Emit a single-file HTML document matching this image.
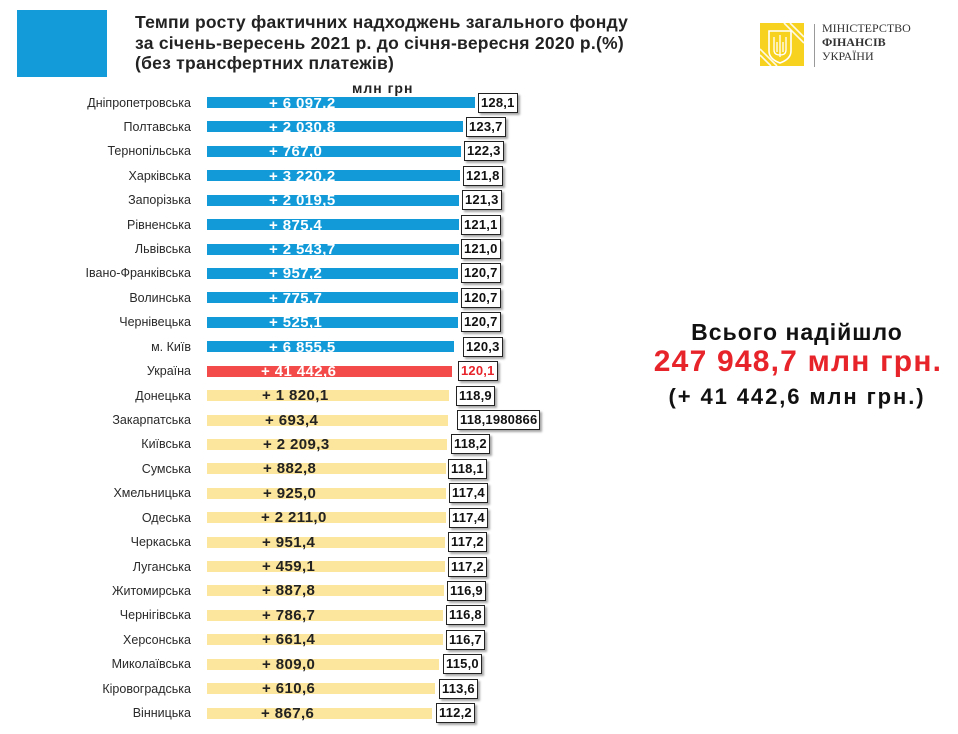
<!DOCTYPE html>
<html><head><meta charset="utf-8">
<style>
*{margin:0;padding:0;box-sizing:border-box}
html,body{width:958px;height:734px;background:#fff;overflow:hidden}
body{position:relative;font-family:"Liberation Sans","DejaVu Sans",sans-serif;color:#222}
.sq{position:absolute;left:17px;top:10px;width:90px;height:67px;background:#139bd9}
.title{position:absolute;left:135px;top:12px;font-size:17.5px;font-weight:bold;line-height:20.5px;color:#222;letter-spacing:0.25px}
.unit{position:absolute;left:352px;top:80px;font-size:14px;font-weight:bold;color:#222;letter-spacing:1px}
.lbl{position:absolute;right:767px;font-size:12.5px;color:#2a2a2a;white-space:nowrap;line-height:14px}
.bar{position:absolute;left:207px;height:11px}
.b{background:#129ad8}.r{background:#f34a4a}.y{background:#fce59c}
.bt{position:absolute;font-size:15px;font-weight:bold;letter-spacing:0.4px;white-space:nowrap;line-height:15px}
.bt.w{color:#fff}.bt.k{color:#222}
.box{position:absolute;height:20px;border:1.5px solid #222;background:#fff;font-size:13px;font-weight:bold;line-height:17px;padding:0 2px 0 2px;white-space:nowrap;box-shadow:2px 2px 2px rgba(0,0,0,0.35);color:#111;letter-spacing:0.2px}
.rt{position:absolute;left:600px;width:400px;text-align:center;font-weight:bold;white-space:nowrap}
.logo{position:absolute;left:760px;top:23px;width:44px;height:43px;background:#f7d21e;overflow:hidden}
.vl{position:absolute;left:814px;top:24px;width:1px;height:43px;background:#999}
.lt{position:absolute;left:822px;font-family:"Liberation Serif",serif;font-size:12px;color:#333;line-height:13px;white-space:nowrap}
</style></head><body>
<div class="sq"></div>
<div class="title">Темпи росту фактичних надходжень загального фонду<br>за січень-вересень 2021 р. до січня-вересня 2020 р.(%)<br>(без трансфертних платежів)</div>

<div class="logo">
<svg width="44" height="43" viewBox="0 0 44 43">
<g stroke="#fff" stroke-width="1.6" fill="none" opacity="0.9">
<line x1="24" y1="0" x2="44" y2="20"/><line x1="30" y1="0" x2="44" y2="14"/>
<line x1="0" y1="26" x2="17" y2="43"/><line x1="0" y1="32" x2="11" y2="43"/>
</g>
<path d="M9 8 H31 V28 Q31 36 20 40 Q9 36 9 28 Z" fill="#f7d21e" stroke="#fff" stroke-width="1.6"/>
<path d="M20 12 V34 M14 14 V27 Q14 32 20 32 Q26 32 26 27 V14 M17 19 V29 M23 19 V29" stroke="#fff" stroke-width="1.3" fill="none"/>
</svg>
</div>
<div class="vl"></div>
<div class="lt" style="top:22px">МІНІСТЕРСТВО</div>
<div class="lt" style="top:36px;font-weight:bold">ФІНАНСІВ</div>
<div class="lt" style="top:50px">УКРАЇНИ</div>

<div class="unit">млн грн</div>

<div class="rt" style="top:319px;font-size:23px;letter-spacing:1px;color:#111;left:597px">Всього надійшло</div>
<div class="rt" style="top:345px;font-size:30px;letter-spacing:1.2px;color:#e8242b;left:598px">247 948,7 млн грн.</div>
<div class="rt" style="top:384px;font-size:22px;letter-spacing:1.9px;color:#111;left:597px">(+ 41 442,6 млн грн.)</div>

<div id="rows">
<div class="lbl" style="top:95.5px">Дніпропетровська</div><div class="bar b" style="top:97px;width:268px"></div><div class="bt w" style="left:269px;top:95.5px">+ 6 097.2</div><div class="box" style="left:478px;top:92.5px">128,1</div>
<div class="lbl" style="top:119.9px">Полтавська</div><div class="bar b" style="top:121.4px;width:256px"></div><div class="bt w" style="left:269px;top:119.9px">+ 2 030,8</div><div class="box" style="left:466px;top:116.9px">123,7</div>
<div class="lbl" style="top:144.3px">Тернопільська</div><div class="bar b" style="top:145.8px;width:254px"></div><div class="bt w" style="left:269px;top:144.3px">+ 767,0</div><div class="box" style="left:464px;top:141.3px">122,3</div>
<div class="lbl" style="top:168.8px">Харківська</div><div class="bar b" style="top:170.3px;width:253px"></div><div class="bt w" style="left:269px;top:168.8px">+ 3 220,2</div><div class="box" style="left:463px;top:165.8px">121,8</div>
<div class="lbl" style="top:193.2px">Запорізька</div><div class="bar b" style="top:194.7px;width:252px"></div><div class="bt w" style="left:269px;top:193.2px">+ 2 019,5</div><div class="box" style="left:462px;top:190.2px">121,3</div>
<div class="lbl" style="top:217.6px">Рівненська</div><div class="bar b" style="top:219.1px;width:252px"></div><div class="bt w" style="left:269px;top:217.6px">+ 875,4</div><div class="box" style="left:461px;top:214.6px">121,1</div>
<div class="lbl" style="top:242.0px">Львівська</div><div class="bar b" style="top:243.5px;width:252px"></div><div class="bt w" style="left:269px;top:242.0px">+ 2 543,7</div><div class="box" style="left:461px;top:239.0px">121,0</div>
<div class="lbl" style="top:266.4px">Івано-Франківська</div><div class="bar b" style="top:267.9px;width:251px"></div><div class="bt w" style="left:269px;top:266.4px">+ 957,2</div><div class="box" style="left:461px;top:263.4px">120,7</div>
<div class="lbl" style="top:290.9px">Волинська</div><div class="bar b" style="top:292.4px;width:251px"></div><div class="bt w" style="left:269px;top:290.9px">+ 775,7</div><div class="box" style="left:461px;top:287.9px">120,7</div>
<div class="lbl" style="top:315.3px">Чернівецька</div><div class="bar b" style="top:316.8px;width:251px"></div><div class="bt w" style="left:269px;top:315.3px">+ 525,1</div><div class="box" style="left:461px;top:312.3px">120,7</div>
<div class="lbl" style="top:339.7px">м. Київ</div><div class="bar b" style="top:341.2px;width:247px"></div><div class="bt w" style="left:269px;top:339.7px">+ 6 855,5</div><div class="box" style="left:463px;top:336.7px">120,3</div>
<div class="lbl" style="top:364.1px">Україна</div><div class="bar r" style="top:365.6px;width:245px"></div><div class="bt w" style="left:261px;top:364.1px">+ 41 442,6</div><div class="box" style="left:458px;top:361.1px;color:#e8242b">120,1</div>
<div class="lbl" style="top:388.5px">Донецька</div><div class="bar y" style="top:390.0px;width:242px"></div><div class="bt k" style="left:262px;top:388.0px">+ 1 820,1</div><div class="box" style="left:456px;top:385.5px">118,9</div>
<div class="lbl" style="top:413.0px">Закарпатська</div><div class="bar y" style="top:414.5px;width:241px"></div><div class="bt k" style="left:265px;top:412.5px">+ 693,4</div><div class="box" style="left:457px;top:410.0px">118,1980866</div>
<div class="lbl" style="top:437.4px">Київська</div><div class="bar y" style="top:438.9px;width:240px"></div><div class="bt k" style="left:263px;top:436.9px">+ 2 209,3</div><div class="box" style="left:451px;top:434.4px">118,2</div>
<div class="lbl" style="top:461.8px">Сумська</div><div class="bar y" style="top:463.3px;width:239px"></div><div class="bt k" style="left:263px;top:461.3px">+ 882,8</div><div class="box" style="left:448px;top:458.8px">118,1</div>
<div class="lbl" style="top:486.2px">Хмельницька</div><div class="bar y" style="top:487.7px;width:239px"></div><div class="bt k" style="left:263px;top:485.7px">+ 925,0</div><div class="box" style="left:449px;top:483.2px">117,4</div>
<div class="lbl" style="top:510.6px">Одеська</div><div class="bar y" style="top:512.1px;width:239px"></div><div class="bt k" style="left:261px;top:510.1px">+ 2 211,0</div><div class="box" style="left:449px;top:507.6px">117,4</div>
<div class="lbl" style="top:535.1px">Черкаська</div><div class="bar y" style="top:536.6px;width:238px"></div><div class="bt k" style="left:262px;top:534.6px">+ 951,4</div><div class="box" style="left:448px;top:532.1px">117,2</div>
<div class="lbl" style="top:559.5px">Луганська</div><div class="bar y" style="top:561.0px;width:238px"></div><div class="bt k" style="left:262px;top:559.0px">+ 459,1</div><div class="box" style="left:448px;top:556.5px">117,2</div>
<div class="lbl" style="top:583.9px">Житомирська</div><div class="bar y" style="top:585.4px;width:237px"></div><div class="bt k" style="left:262px;top:583.4px">+ 887,8</div><div class="box" style="left:447px;top:580.9px">116,9</div>
<div class="lbl" style="top:608.3px">Чернігівська</div><div class="bar y" style="top:609.8px;width:236px"></div><div class="bt k" style="left:262px;top:607.8px">+ 786,7</div><div class="box" style="left:446px;top:605.3px">116,8</div>
<div class="lbl" style="top:632.7px">Херсонська</div><div class="bar y" style="top:634.2px;width:236px"></div><div class="bt k" style="left:262px;top:632.2px">+ 661,4</div><div class="box" style="left:446px;top:629.7px">116,7</div>
<div class="lbl" style="top:657.2px">Миколаївська</div><div class="bar y" style="top:658.7px;width:232px"></div><div class="bt k" style="left:262px;top:656.7px">+ 809,0</div><div class="box" style="left:443px;top:654.2px">115,0</div>
<div class="lbl" style="top:681.6px">Кіровоградська</div><div class="bar y" style="top:683.1px;width:228px"></div><div class="bt k" style="left:262px;top:681.1px">+ 610,6</div><div class="box" style="left:439px;top:678.6px">113,6</div>
<div class="lbl" style="top:706.0px">Вінницька</div><div class="bar y" style="top:707.5px;width:225px"></div><div class="bt k" style="left:261px;top:705.5px">+ 867,6</div><div class="box" style="left:436px;top:703.0px">112,2</div>
</div>
</body></html>
